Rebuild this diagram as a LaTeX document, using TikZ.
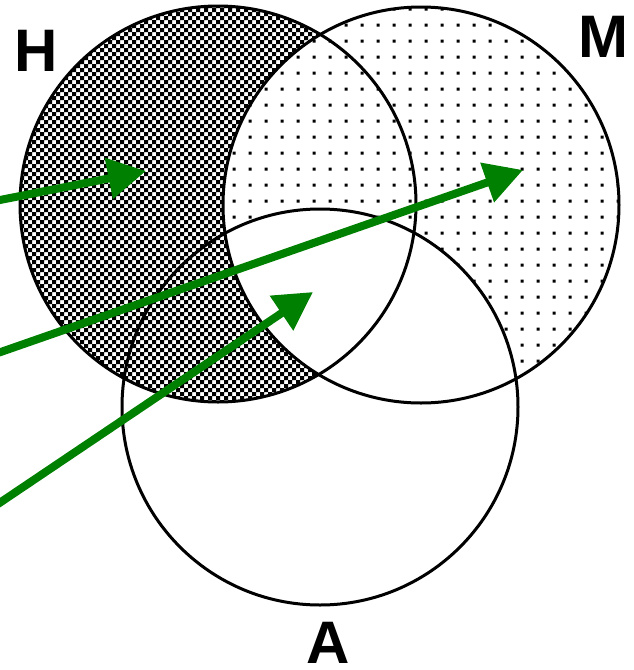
\documentclass[tikz,border=0pt]{standalone}
\usepackage{fontspec}
\setmainfont{Liberation Sans}
\usepackage{xcolor}
\usepackage{tikz}
\usetikzlibrary{arrows.meta}

\definecolor{arrowgreen}{RGB}{0,128,0}

\begin{document}
\begin{tikzpicture}[
  x=1pt, y=-1pt,
  setcircle/.style={draw, line width=3pt},
  setlabel/.style={anchor=base, inner sep=0pt, font=\bfseries\fontsize{60}{60}\selectfont},
  greenarrow/.style={-{Triangle[length=38pt, width=40pt]}, line width=8pt, draw=arrowgreen}
]

\useasboundingbox (0,0) rectangle (633,670);

\coordinate (hc) at (218,204);
\coordinate (mc) at (421,205);
\coordinate (ac) at (320,407);

% H but not M: checker
\begin{scope}
  \clip (hc) circle[radius=198pt];
  \fill[even odd rule]
    foreach \i in {2,...,52} {(8*\i,0) rectangle ++(4,408)}
    foreach \j in {0,...,51} {(16,8*\j) rectangle ++(408,4)};
\end{scope}

% M but not A: dots
\fill[white] (mc) circle[radius=198pt];
\begin{scope}
  \clip (mc) circle[radius=198pt];
  \fill foreach \i in {-13,...,12} {
    foreach \j in {-14,...,12} {(424.5+16*\i,215.5+16*\j) rectangle ++(3,3)}
  };
  \fill[white] (ac) circle[radius=198pt];
\end{scope}

\draw[setcircle] (hc) circle[radius=198pt];
\draw[setcircle] (mc) circle[radius=198pt];
\draw[setcircle] (ac) circle[radius=198pt];

\node[setlabel] (hlabel) at (36,71) {H};
\node[setlabel] (mlabel) at (603,57) {M};
\node[setlabel] (alabel) at (328,663) {A};

\coordinate (tail1) at (-5,201);
\coordinate (tip1) at (146,171);
\coordinate (tail2) at (-5,354);
\coordinate (tip2) at (523,170);
\coordinate (tail3) at (-5,506);
\coordinate (tip3) at (313,292);

\draw[greenarrow] (tail1) -- (tip1);
\draw[greenarrow] (tail2) -- (tip2);
\draw[greenarrow] (tail3) -- (tip3);

\end{tikzpicture}
\end{document}
